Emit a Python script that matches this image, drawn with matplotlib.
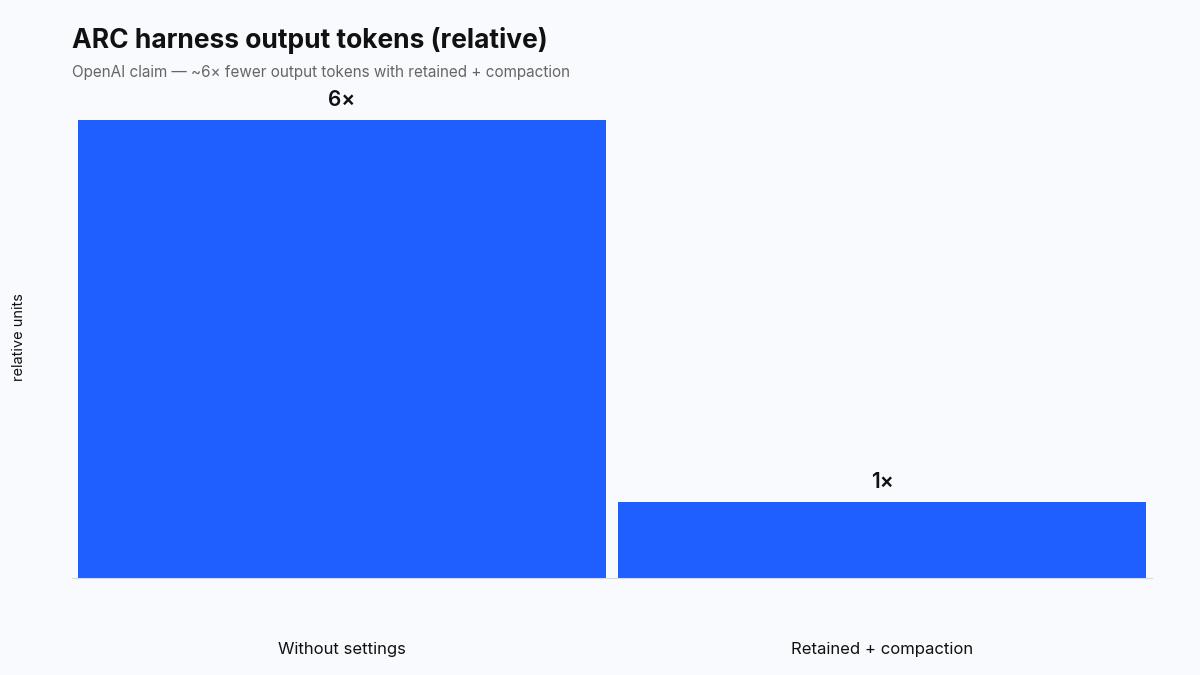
import matplotlib
matplotlib.use("Agg")
import matplotlib.pyplot as plt

categories = ["Without settings", "Retained + compaction"]
values = [6, 1]
labels = ["6×", "1×"]

bg = "#F8FAFD"
plt.rcParams['font.family'] = ['Inter', 'DejaVu Sans']
fig = plt.figure(figsize=(12, 6.75), dpi=100, facecolor=bg)
ax = fig.add_axes([0.06, 578/675*0 + 97/675, 0.90, 458/675])
ax.set_facecolor(bg)
x = list(range(len(categories)))
ax.bar(x, values, width=528/540, color="#1F5EFF")
for xi, v, l in zip(x, values, labels):
    ax.text(xi, v + 0.13, l, ha="center", va="bottom", fontsize=15, fontweight="semibold", color="#111111")
ax.set_xlim(-0.5, 1.5)
ax.set_ylim(0, 6)
ax.set_xticks(x)
ax.set_xticklabels(categories, fontsize=12, color="#111111")
ax.tick_params(axis="x", length=0, pad=46)
ax.set_yticks([])
for s in ["top", "right", "left"]:
    ax.spines[s].set_visible(False)
ax.spines["bottom"].set_color("#D5D9E0")
fig.text(0.01, 0.5, "relative units", rotation=90, ha="left", va="center", fontsize=10.5, color="#111111")
fig.text(0.06, 1 - 40/675, "ARC harness output tokens (relative)", fontsize=19, fontweight="bold", color="#111111", va="center")
fig.text(0.06, 1 - 73/675, "OpenAI claim — ~6× fewer output tokens with retained + compaction", fontsize=11, color="#666666", va="center")
fig.savefig("out.png", dpi=100, facecolor=bg)
